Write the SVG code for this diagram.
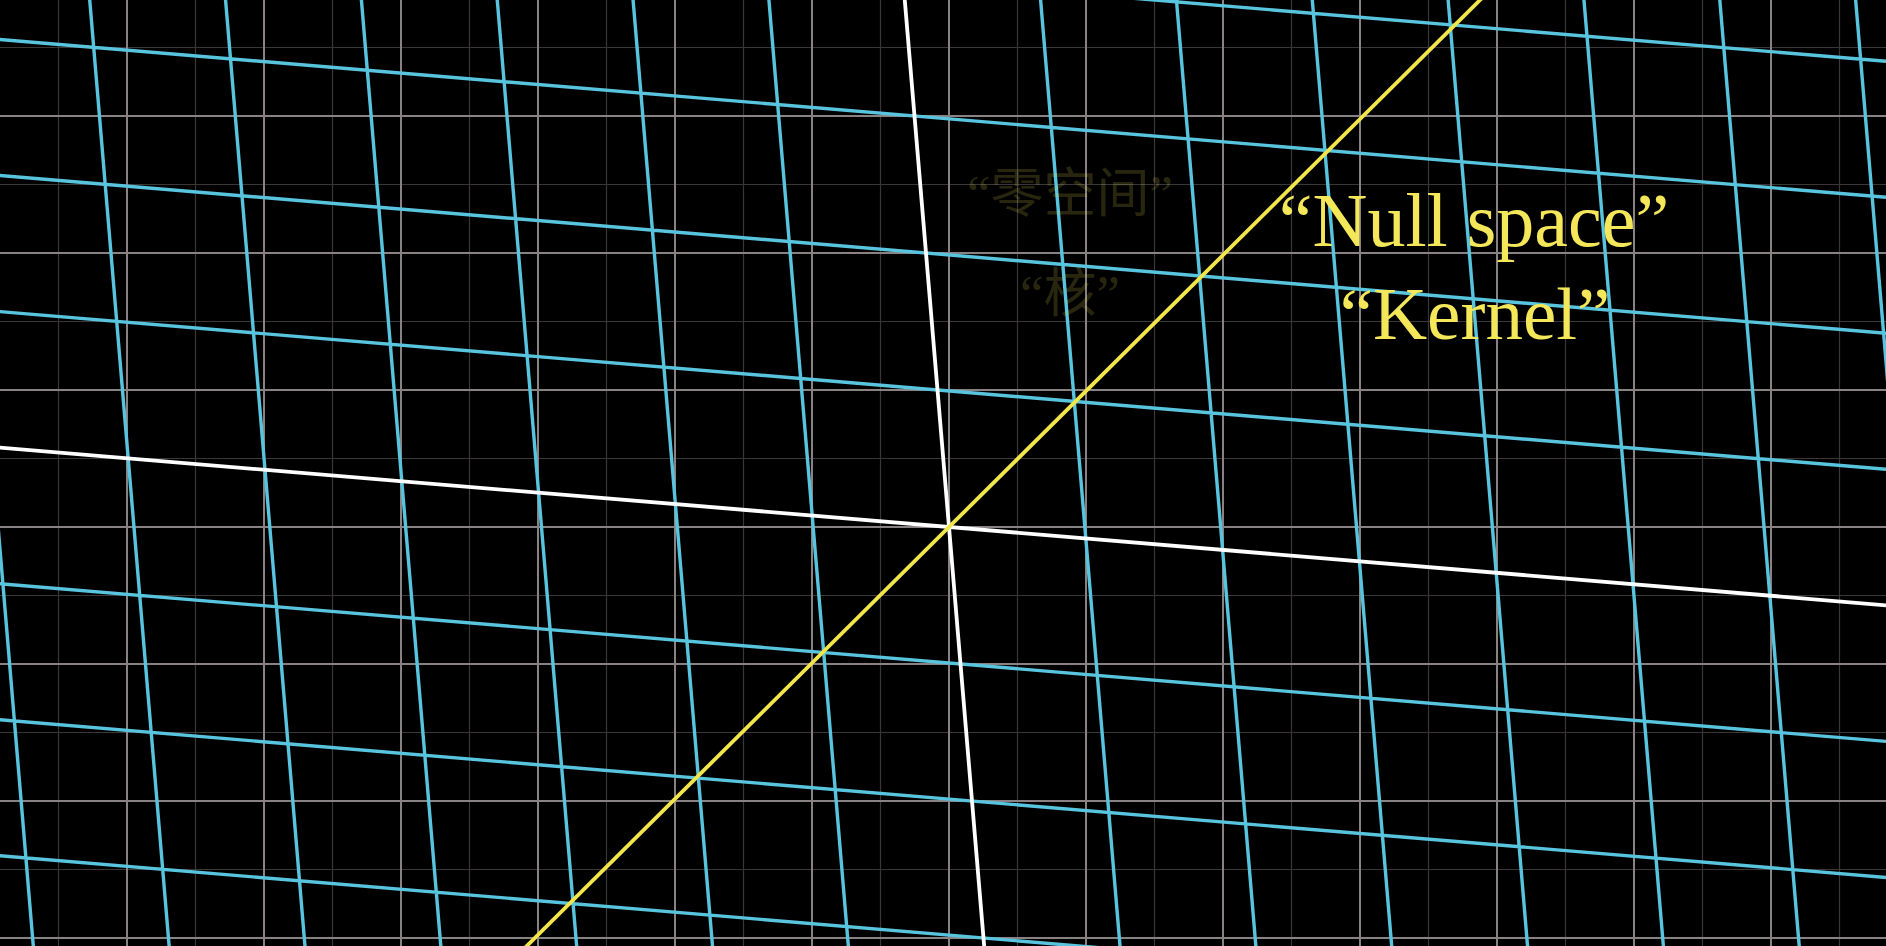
<svg xmlns="http://www.w3.org/2000/svg" width="1886" height="946" viewBox="0 0 1886 946">
<style>
.minor{fill:none;stroke:#3b3737;stroke-width:1.2}
.major{fill:none;stroke:#8a8282;stroke-width:2}
.blue{fill:none;stroke:#58C4DD;stroke-width:3.4}
.axis{fill:none;stroke:#ffffff;stroke-width:3.8}
.kernel{fill:none;stroke:#F2E64A;stroke-width:3.8}
.label{font-family:"Liberation Serif","DejaVu Serif",serif;fill:#F4E85A}
.ghost{font-family:"Liberation Serif","Noto Sans CJK SC",serif;fill:#F4E85A;opacity:0.16}
</style>
<rect id="background" x="0" y="0" width="1886" height="946" fill="#000"/>
<g id="background-grid" transform="matrix(137 0 0 137 949 527)">
<path class="minor" vector-effect="non-scaling-stroke" d="M-7.5-5V5M-6.5-5V5M-5.5-5V5M-4.5-5V5M-3.5-5V5M-2.5-5V5M-1.5-5V5M-0.5-5V5M0.5-5V5M1.5-5V5M2.5-5V5M3.5-5V5M4.5-5V5M5.5-5V5M6.5-5V5M7.5-5V5M-8-4.5H8M-8-3.5H8M-8-2.5H8M-8-1.5H8M-8-0.5H8M-8 0.5H8M-8 1.5H8M-8 2.5H8M-8 3.5H8M-8 4.5H8"/>
<path class="major" vector-effect="non-scaling-stroke" d="M-7-5V5M-6-5V5M-5-5V5M-4-5V5M-3-5V5M-2-5V5M-1-5V5M0-5V5M1-5V5M2-5V5M3-5V5M4-5V5M5-5V5M6-5V5M7-5V5M-8-4H8M-8-3H8M-8-2H8M-8-1H8M-8 0H8M-8 1H8M-8 2H8M-8 3H8M-8 4H8"/>
</g>
<g id="transformed-grid" transform="matrix(136.8 11.44 -11.5 -137 949 527)">
<path class="blue" vector-effect="non-scaling-stroke" d="M-8-6V6M-7-6V6M-6-6V6M-5-6V6M-4-6V6M-3-6V6M-2-6V6M-1-6V6M1-6V6M2-6V6M3-6V6M4-6V6M5-6V6M6-6V6M7-6V6M8-6V6M-9-6H9M-9-5H9M-9-4H9M-9-3H9M-9-2H9M-9-1H9M-9 1H9M-9 2H9M-9 3H9M-9 4H9M-9 5H9M-9 6H9"/>
<path id="axes" class="axis" vector-effect="non-scaling-stroke" d="M-10 0H10M0-10V10"/>
</g>
<g id="null-space-line">
<path class="kernel" d="M1490.1 -10L516.7 956"/>
</g>
<g id="faded-labels">
<text class="ghost" x="1070" y="212" font-size="53" text-anchor="middle">“零空间”</text>
<text class="ghost" x="1070" y="312" font-size="53" text-anchor="middle">“核”</text>
</g>
<g id="labels">
<text class="label" x="1474" y="246" font-size="76" text-anchor="middle">“Null space”</text>
<text class="label" x="1475" y="339" font-size="75" text-anchor="middle">“Kernel”</text>
</g>
</svg>
